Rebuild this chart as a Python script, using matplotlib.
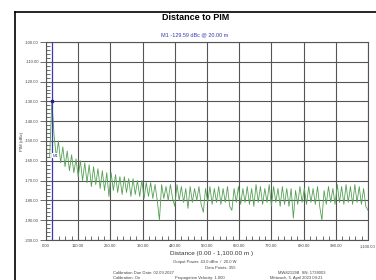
import numpy as np
import matplotlib
matplotlib.use("Agg")
import matplotlib.pyplot as plt
from matplotlib.lines import Line2D

plt.rcParams['font.family'] = ['Liberation Sans', 'DejaVu Sans']

# ---------------- data ----------------
title = "Distance to PIM"
marker_text = "M1 -129.59 dBc @ 20.00 m"
marker_name = "M1"
marker_distance = 20.0
marker_value = -129.59

distance_start = 12.5
distance_step = 7.5
pim_dbc = [
    -158, -129.6, -147, -158, -150, -161, -153, -163, -155, -165,
    -157, -166, -159, -168, -160, -170, -161, -171, -162, -173,
    -163, -172, -164, -174, -165, -175, -166, -178, -166, -175,
    -167, -176, -168, -177, -168, -176, -169, -178, -169, -177,
    -170, -178, -170, -179, -171, -178, -171, -179, -172, -180,
    -190, -172, -179, -173, -180, -172, -179, -183, -172, -180,
    -173, -181, -174, -184, -173, -181, -174, -180, -173, -182,
    -186, -174, -181, -173, -182, -174, -181, -173, -182, -174,
    -181, -173, -183, -185, -174, -181, -173, -182, -174, -181,
    -173, -182, -174, -183, -172, -181, -173, -182, -174, -181,
    -172, -183, -173, -181, -174, -183, -173, -182, -174, -183,
    -174, -189, -175, -182, -173, -181, -174, -182, -173, -181,
    -174, -182, -173, -183, -190, -175, -182, -173, -181, -174,
    -182, -172, -181, -173, -182, -172, -181, -173, -182, -172,
    -181, -173, -182, -174, -183, -185,
]

x_ticks = [0, 110, 220, 330, 440, 550, 660, 770, 880, 990, 1100]
x_tick_labels = ["0.00", "110.00", "220.00", "330.00", "440.00", "550.00",
                 "660.00", "770.00", "880.00", "990.00", "1,100.00"]
y_ticks = [-100, -110, -120, -130, -140, -150, -160, -170, -180, -190, -200]
y_tick_labels = ["-100.00", "-110.00", "-120.00", "-130.00", "-140.00",
                 "-150.00", "-160.00", "-170.00", "-180.00", "-190.00",
                 "-200.00"]
x_label = "Distance (0.00 - 1,100.00 m )"
y_label = "PIM (dBc)"
info_lines = [
    "Output Power: 43.0 dBm  /  20.0 W",
    "Data Points: 355",
]
cal_lines = ["Calibration Due Date: 02.09.2027", "Calibration: On"]
prop_text = "Propagation Velocity: 1.000"
device_lines = ["MW82119B  SN: 1738003", "Mittwoch, 5. April 2023 09:21"]

# ---------------- figure ----------------
W, H = 376, 280
fig = plt.figure(figsize=(W / 100, H / 100), dpi=100)
fig.patch.set_facecolor("white")


def fx(px):
    return px / W


def fy(py):
    return 1 - py / H


# outer frame
fig.add_artist(Line2D([fx(15), fx(15)], [fy(12), fy(290)], color="black", lw=1.2,
                      transform=fig.transFigure))
fig.add_artist(Line2D([fx(15), fx(380)], [fy(12), fy(12)], color="black", lw=1.2,
                      transform=fig.transFigure))

ax = fig.add_axes([fx(46), fy(240), (368 - 46) / W, (240 - 42) / H])
ax.set_facecolor("white")

x = distance_start + distance_step * np.arange(len(pim_dbc))
ax.plot(x, pim_dbc, color="#55a055", lw=0.6, zorder=3)

# marker
ax.axvline(marker_distance, color="#3a3ab0", lw=0.9, zorder=4)
ax.plot([marker_distance], [marker_value], marker="s", ms=1.6, color="#22228a", zorder=5)
ax.text(marker_distance + 1, -157.5, marker_name, color="#3a3ab0", fontsize=3,
        va="center", ha="left", zorder=6,
        bbox=dict(boxstyle="square,pad=0.15", fc="white", ec="none"))

ax.set_xlim(0, 1100)
ax.set_ylim(-200, -100)
ax.set_xticks(x_ticks)
ax.set_xticklabels(x_tick_labels)
ax.set_yticks(y_ticks)
ax.set_yticklabels(y_tick_labels)
ax.set_xticks(np.arange(0, 1101, 22), minor=True)
ax.set_yticks(np.arange(-200, -99, 2), minor=True)

ax.grid(True, which="major", color="#555555", lw=0.8)
for s in ax.spines.values():
    s.set_color("#555555")
    s.set_linewidth(0.8)

ax.tick_params(axis="both", which="major", labelsize=3, colors="#555555",
               labelcolor="#444444", length=4, width=0.6, pad=1)
ax.tick_params(axis="x", which="major", length=0, pad=3)
ax.tick_params(axis="both", which="minor", direction="in", length=3,
               width=0.6, colors="#555555")

fig.text(fx(22), fy(141), y_label, rotation=90, fontsize=3.2, color="#444444",
         ha="center", va="center")

# texts
fig.text(fx(196), fy(17), title, fontsize=6.5, fontweight="bold",
         ha="center", va="center", color="black")
fig.text(fx(195), fy(35), marker_text, fontsize=4, ha="center", va="center",
         color="#3a3ab0")
fig.text(fx(212), fy(254), x_label, fontsize=4.6, ha="center", va="center",
         color="#333333")
fig.text(fx(205), fy(262.5), info_lines[0], fontsize=3, ha="center", va="center",
         color="#444444")
fig.text(fx(220), fy(268), info_lines[1], fontsize=3, ha="center", va="center",
         color="#444444")
fig.text(fx(113), fy(273), cal_lines[0], fontsize=3, ha="left", va="center",
         color="#444444")
fig.text(fx(113), fy(278), cal_lines[1], fontsize=3, ha="left", va="center",
         color="#444444")
fig.text(fx(175), fy(278), prop_text, fontsize=3, ha="left", va="center",
         color="#444444")
fig.text(fx(302), fy(273), device_lines[0], fontsize=3, ha="center", va="center",
         color="#444444")
fig.text(fx(296), fy(278), device_lines[1], fontsize=3, ha="center", va="center",
         color="#444444")

fig.savefig("out.png", dpi=100, facecolor="white")
